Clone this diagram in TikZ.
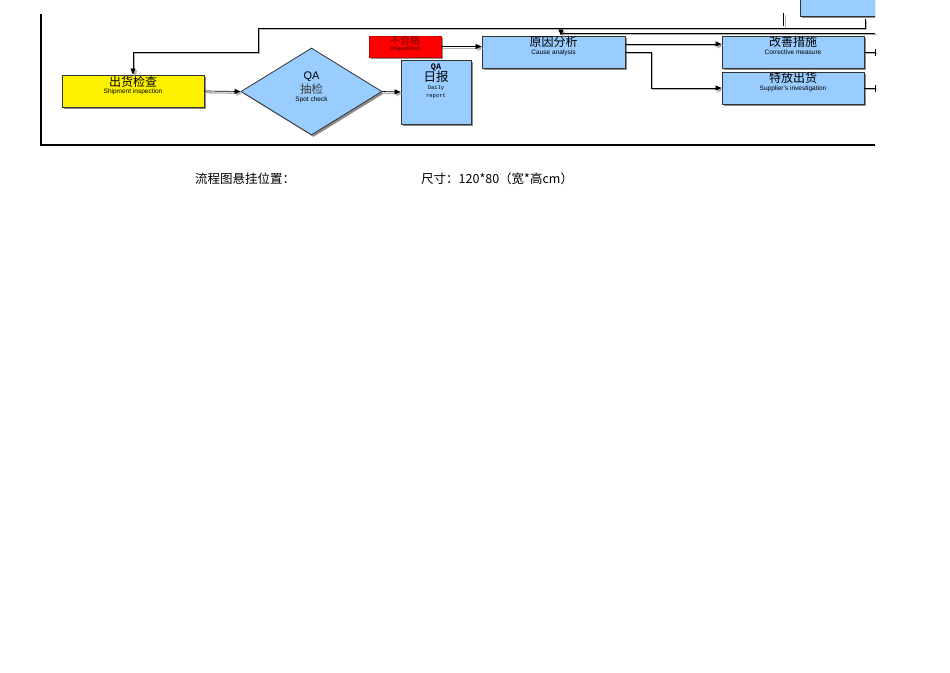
\documentclass[tikz,border=0pt]{standalone}
\usepackage{fontspec}
\setmainfont{Liberation Sans}
\newfontfamily\cjk{Noto Sans CJK SC}
\newfontfamily\mono{Liberation Mono}
\usetikzlibrary{shapes.geometric,shadows,arrows.meta}
\definecolor{fblue}{HTML}{99CCFF}
\definecolor{dred}{HTML}{800000}
\begin{document}
\begin{tikzpicture}[x=1pt,y=-1pt,
  shbox/.style={draw=black!80, line width=0.8pt, inner sep=0pt, drop shadow={shadow xshift=2pt, shadow yshift=-2pt, fill=black!45, opacity=1}},
  bluebox/.style={shbox, fill=fblue},
  ttl/.style={font=\cjk\fontsize{12}{12}\selectfont, inner sep=0pt},
  sub/.style={font=\fontsize{6.5}{7}\selectfont, inner sep=0pt},
  conn/.style={line width=0.7pt, preaction={draw=black!30, line width=1.3pt, transform canvas={xshift=1.8pt, yshift=-1.8pt}}},
  arr/.style={conn, -{Triangle[length=6pt,width=5pt]}},
  frame/.style={line width=1.8pt}]
\useasboundingbox (0,0) rectangle (950,672);

% top-right partial box
\begin{scope}
\clip (0,0) rectangle (875,672);
\node[bluebox, minimum width=95pt, minimum height=30pt] (topbox) at (847.5,1) {};
\end{scope}

% boxes
\node[shbox, fill=yellow, minimum width=142pt, minimum height=32pt] (ship) at (133,91) {};
\node[shbox, fill=fblue, diamond, minimum width=141pt, minimum height=87pt] (spot) at (311.5,91.5) {};
\node[bluebox, minimum width=70pt, minimum height=64pt] (qad) at (436,92) {};
\node[shbox, fill=red, draw=red!80!black, minimum width=72pt, minimum height=21pt] (unq) at (405,46.5) {};
\node[bluebox, minimum width=143pt, minimum height=32pt] (cause) at (553.5,52) {};
\node[bluebox, minimum width=142pt, minimum height=32pt] (corr) at (793,52) {};
\node[bluebox, minimum width=142pt, minimum height=32pt] (supp) at (793,88) {};

% texts
\node[ttl] (t1) at (133,82) {出货检查};
\node[sub] (t1e) at (133,92) {Shipment inspection};
\node[inner sep=0pt, font=\fontsize{11}{11}\selectfont] (t2q) at (311.5,77) {QA};
\node[ttl, font=\cjk\fontsize{11.5}{11.5}\selectfont, text=black!75] (t2) at (311.5,89) {抽检};
\node[sub] (t2e) at (311.5,99.5) {Spot check};
\node[inner sep=0pt, font=\mono\bfseries\fontsize{8.5}{8.5}\selectfont] (t3q) at (436,67) {QA};
\node[ttl, font=\cjk\fontsize{12.5}{12.5}\selectfont] (t3) at (436,77) {日报};
\node[inner sep=0pt, font=\mono\fontsize{5.5}{5.5}\selectfont] (t3e) at (436,88) {Daily};
\node[inner sep=0pt, font=\mono\fontsize{5.5}{5.5}\selectfont] (t3f) at (436,96) {report};
\node[ttl, font=\cjk\fontsize{10}{10}\selectfont, text=dred] (t4) at (405,41) {不合格};
\node[inner sep=0pt, font=\bfseries\fontsize{5.5}{5.5}\selectfont, text=dred] (t4e) at (405,49.5) {Unqualified};
\node[ttl] (t5) at (553.5,42) {原因分析};
\node[sub] (t5e) at (553.5,52.5) {Cause analysis};
\node[ttl] (t6) at (793,42) {改善措施};
\node[sub] (t6e) at (793,52.5) {Corrective measure};
\node[ttl] (t7) at (793,78) {特放出货};
\node[sub] (t7e) at (793,88.5) {Supplier's investigation};

% frame
\coordinate (f1) at (41,14);
\coordinate (f2) at (41,145);
\coordinate (f3) at (875,145);
\draw[frame] (f1) -- (f2) -- (f3);

% feedback loop to shipment inspection
\coordinate (l1) at (865,19);
\coordinate (l2) at (865,28);
\coordinate (l3) at (258,28);
\coordinate (l4) at (258,52);
\coordinate (l5) at (133,52);
\draw[arr] (l1) -- (l2) -- (l3) -- (l4) -- (l5) -- (ship.north);
\coordinate (v1) at (783.5,13);
\coordinate (v2) at (783.5,26);
\draw[conn] (v1) -- (v2);

% line into cause analysis from the right
\coordinate (c0) at (875,33);
\coordinate (c1) at (561,33);
\draw[arr] (c0) -- (c1) -- (c1 |- cause.north);

% main flow
\draw[arr] (ship.east) -- (spot.west);
\draw[arr] (spot.east) -- (qad.west);
\draw[arr] (unq.east) -- (unq.east -| cause.west);
\coordinate (a1) at (625,44);
\draw[arr] (a1) -- (a1 -| corr.west);
\coordinate (b1) at (651,52);
\coordinate (b2) at (651,88);
\draw[arr] (cause.east) -- (b1) -- (b2) -- (supp.west);

% outgoing stubs
\coordinate (s1) at (875,52);
\coordinate (s1a) at (875,49);
\coordinate (s1b) at (875,55.5);
\draw[conn] (corr.east) -- (s1);
\draw[line width=0.7pt] (s1a) -- (s1b);
\coordinate (s2) at (875,88);
\coordinate (s2a) at (875,85);
\coordinate (s2b) at (875,91.5);
\draw[conn] (supp.east) -- (s2);
\draw[line width=0.7pt] (s2a) -- (s2b);

% bottom texts
\node[anchor=west, inner sep=0pt, font=\cjk\fontsize{12.5}{12.5}\selectfont] (n1) at (195,179) {流程图悬挂位置：};
\node[anchor=west, inner sep=0pt, font=\cjk\fontsize{12.5}{12.5}\selectfont] (n2) at (421,179) {尺寸：120*80（宽*高cm）};
\end{tikzpicture}
\end{document}
